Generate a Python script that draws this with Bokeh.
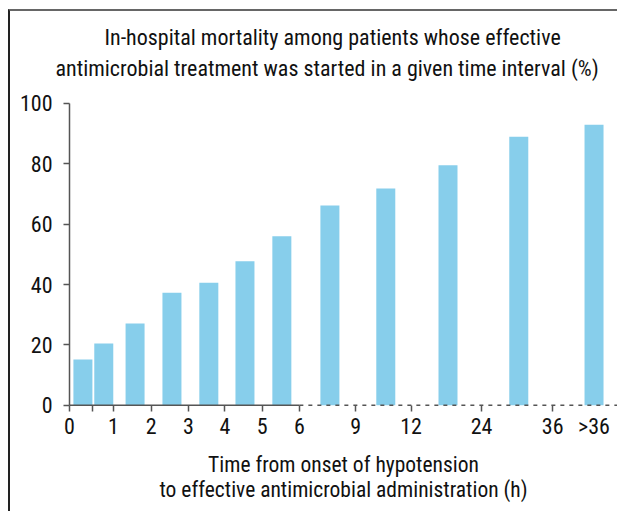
from bokeh.plotting import figure
from bokeh.models import Range1d, FixedTicker, Title
from bokeh.embed import file_html
from bokeh.resources import INLINE

# Time intervals (h) from onset of hypotension to effective antimicrobial therapy
categories = ["0-0.5", "0.5-1", "1-2", "2-3", "3-4", "4-5", "5-6",
              "6-9", "9-12", "12-24", "24-36", ">36"]
# In-hospital mortality (%)
mortality = [15.2, 20.5, 27.1, 37.3, 40.6, 47.7, 56.0, 66.2, 71.8, 79.5, 89.0, 92.9]
# Display position of each interval's bar on the (broken) time axis
bar_pos = [0.36, 0.92, 1.76, 2.75, 3.74, 4.71, 5.70, 6.99, 8.49, 10.16, 12.06, 14.08]

# Interval boundaries on the display axis, with their tick labels
tick_pos = [0, 0.62, 1.18, 2.19, 3.19, 4.17, 5.17, 6.17, 7.68, 9.17, 11.06, 12.97]
tick_labels = ["0", "", "1", "2", "3", "4", "5", "6", "9", "12", "24", "36"]
open_label_pos = 14.08
open_label = ">36"
break_label = "6"          # axis is continuous up to here, dashed afterwards

y_ticks = [0, 20, 40, 60, 80, 100]
y_axis_bounds = (0, 100)

title_lines = ["In-hospital mortality among patients whose effective",
               "antimicrobial treatment was started in a given time interval (%)"]
x_title = "Time from onset of hypotension\nto effective antimicrobial administration (h)"

FONT = "'Liberation Sans Narrow', 'Roboto Condensed', 'DejaVu Sans Condensed', Roboto, sans-serif"
TXT = "#111111"
AX = "#555555"
BAR = "#87CEEB"

X_END = 14.71
Y_TOP = 107.6   # head-room above 100 so the title sits where it does in the original

p = figure(width=609, height=502, output_backend="svg", toolbar_location=None,
           x_range=Range1d(0, X_END), y_range=Range1d(-0.4, Y_TOP),
           min_border_left=59, min_border_right=2, min_border_top=69, min_border_bottom=107)
p.styles = {"margin-left": "8px", "margin-top": "9px",
            "border-left": "2px solid #222222", "border-top": "2px solid #666666"}

p.title.visible = False
t2 = Title(text=title_lines[1], align="left", offset=-14,
           text_font=FONT, text_font_size="22px", text_font_style="normal",
           text_color=TXT, standoff=0)
t1 = Title(text=title_lines[0], align="left", offset=35,
           text_font=FONT, text_font_size="22px", text_font_style="normal",
           text_color=TXT, standoff=8)
p.add_layout(t2, "above")
p.add_layout(t1, "above")

p.grid.visible = False
p.outline_line_color = None
p.background_fill_color = "white"
p.border_fill_color = "white"

p.vbar(x=bar_pos, top=mortality, bottom=0, width=0.51, fill_color=BAR, line_color=None)

# x axis line: solid up to the break, dashed afterwards
brk = tick_pos[tick_labels.index(break_label)]
p.segment(x0=[tick_pos[0]], y0=[0], x1=[brk], y1=[0], line_color=AX, line_width=1.5)
p.segment(x0=[brk], y0=[0], x1=[X_END], y1=[0], line_color=AX, line_width=1.5, line_dash="4 5")

major = [t for t, l in zip(tick_pos, tick_labels) if l] + [open_label_pos]
overrides = {t: l for t, l in zip(tick_pos, tick_labels) if l}
overrides[open_label_pos] = open_label

xa = p.xaxis[0]
xa.ticker = FixedTicker(ticks=major, minor_ticks=tick_pos)
xa.major_label_overrides = overrides
xa.axis_line_color = None
xa.major_tick_line_color = None
xa.major_tick_out = 5
xa.major_tick_in = 0
xa.minor_tick_out = 5
xa.minor_tick_in = 1
xa.minor_tick_line_color = AX
xa.minor_tick_line_width = 1.5
xa.major_label_standoff = 2
xa.major_label_text_font = FONT
xa.major_label_text_font_size = "22px"
xa.major_label_text_color = TXT
xa.axis_label = x_title
xa.axis_label_text_font = FONT
xa.axis_label_text_font_size = "21.5px"
xa.axis_label_text_font_style = "normal"
xa.axis_label_text_color = TXT
xa.axis_label_text_line_height = 1.0
xa.axis_label_standoff = 10

ya = p.yaxis[0]
ya.ticker = FixedTicker(ticks=y_ticks)
ya.bounds = y_axis_bounds
ya.axis_line_color = AX
ya.axis_line_width = 1.5
ya.major_tick_line_color = AX
ya.major_tick_line_width = 1.5
ya.major_tick_out = 6
ya.major_tick_in = 0
ya.minor_tick_line_color = None
ya.major_label_standoff = 11
ya.major_label_text_font = FONT
ya.major_label_text_font_size = "22px"
ya.major_label_text_color = TXT

open("out.html", "w").write(file_html(p, INLINE))
